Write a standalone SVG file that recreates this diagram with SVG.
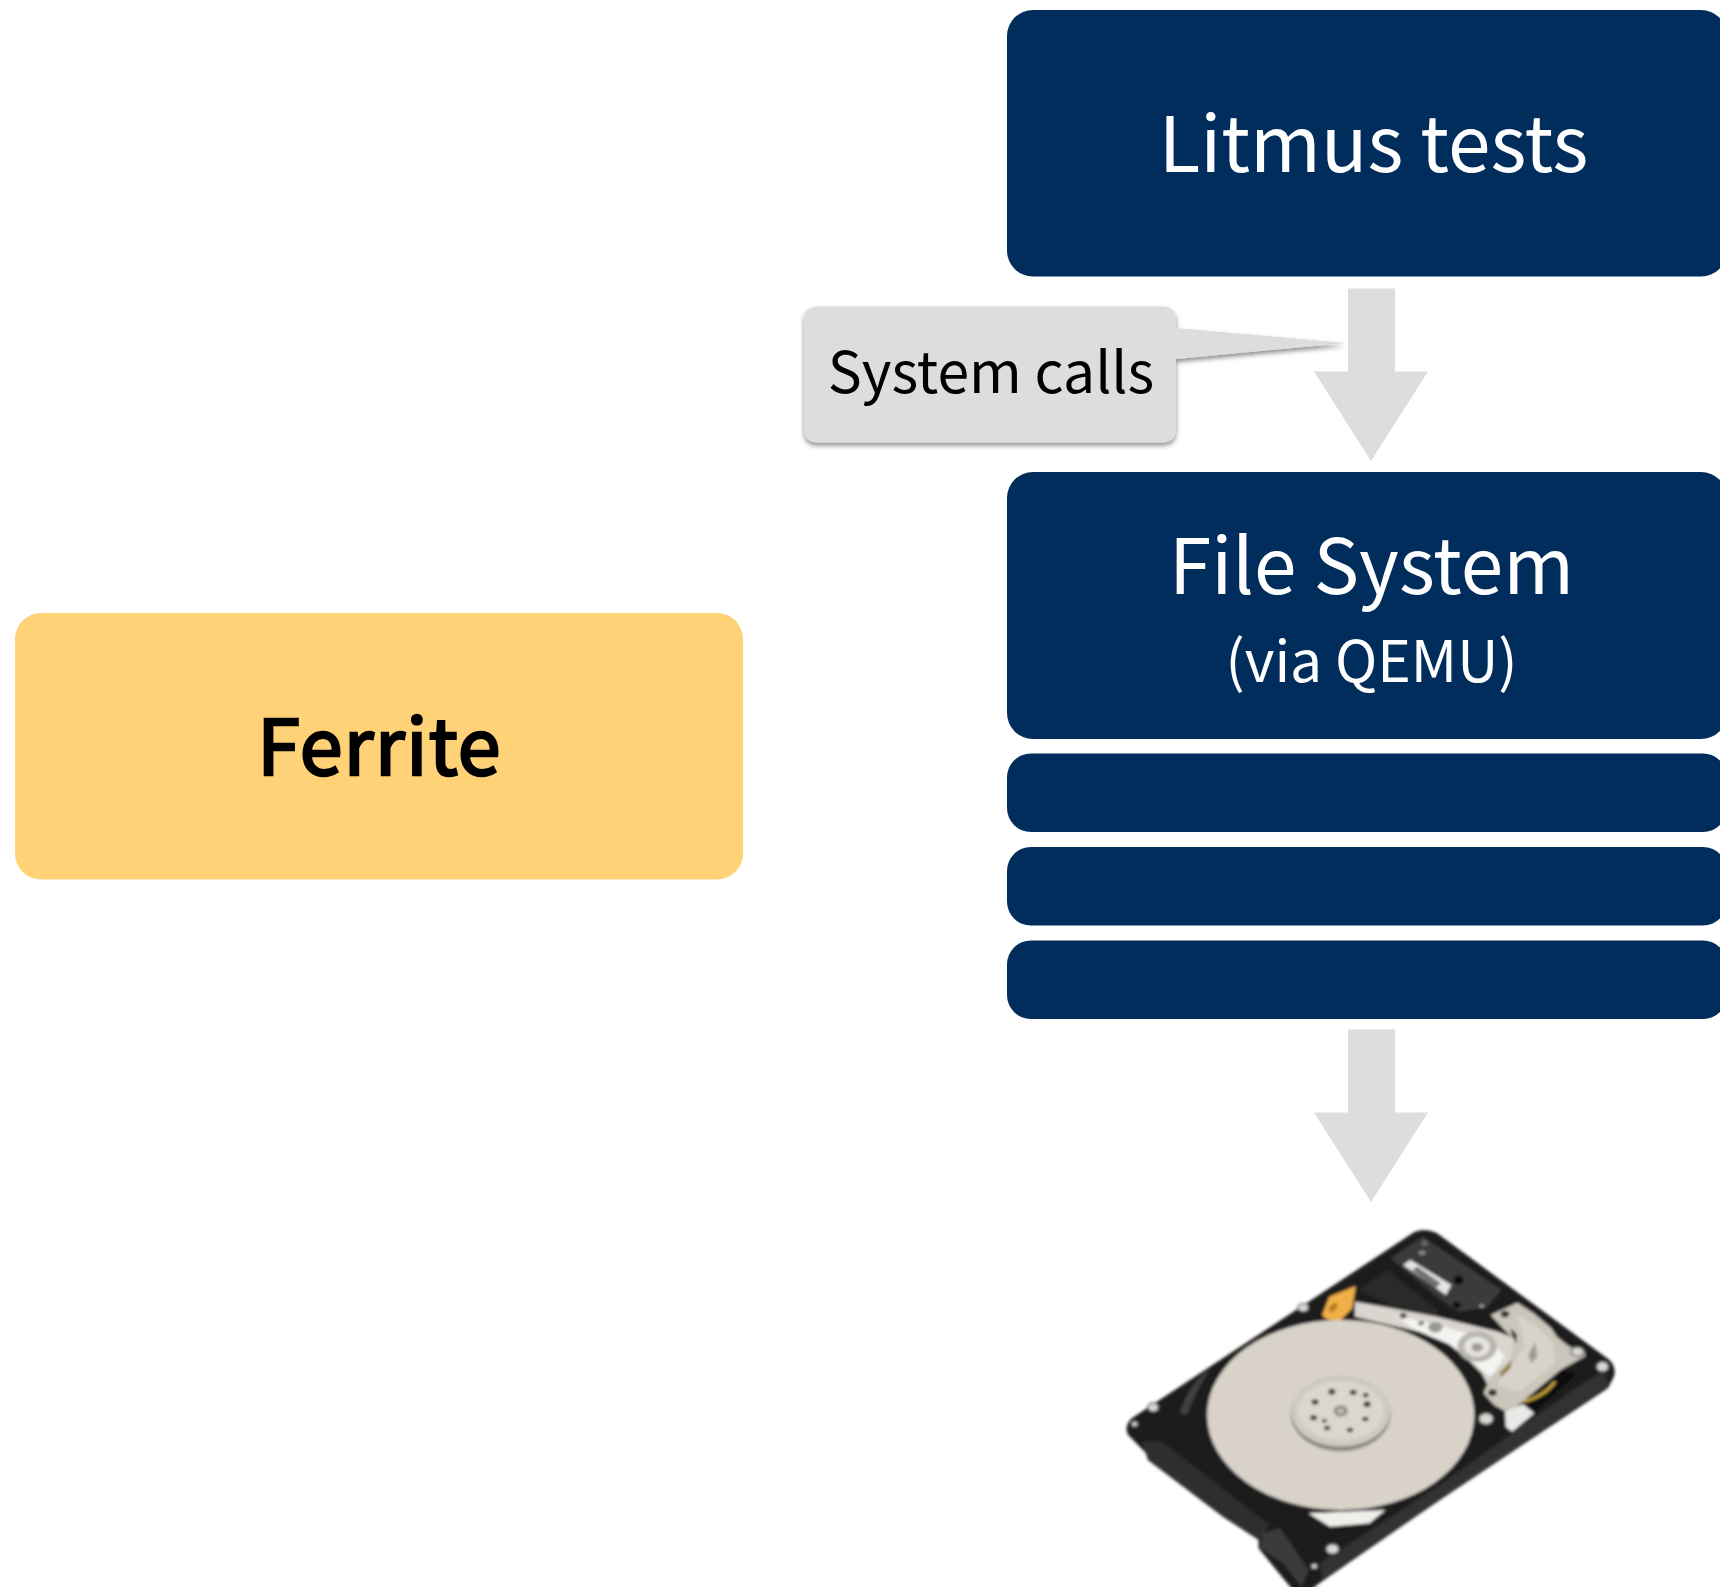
<svg xmlns="http://www.w3.org/2000/svg" width="1720" height="1587" viewBox="0 0 1720 1587">
<defs>
<style>
.blue{fill:#012D5D}
.arrow{fill:#DCDDDF}
.t{font-family:"Noto Sans CJK SC","Noto Sans",sans-serif;text-anchor:middle}
.w{fill:#fff;font-weight:400}
.k{fill:#000}
.screw{fill:#d8d8d6;stroke:#55544f;stroke-width:4}
.hole{fill:#45423d}
</style>
<filter id="sh" x="-10%" y="-20%" width="120%" height="150%"><feDropShadow dx="0" dy="3" stdDeviation="2.5" flood-color="#000" flood-opacity=".45"/></filter>
<filter id="photo" x="-5%" y="-5%" width="110%" height="110%"><feGaussianBlur stdDeviation="4"/></filter>
</defs>
<rect width="1720" height="1587" fill="#fff"/>
<g id="connectors">
<path class="arrow" d="M1348 288.500H1395V371.500H1428L1371 461L1314 371.500H1348Z"/>
<path class="arrow" d="M1348 1029.500H1395V1112.500H1428L1371 1202L1314 1112.500H1348Z"/>
</g>
<g id="litmus-tests">
<rect class="blue" x="1007" y="10" width="720" height="266.500" rx="26"/>
<text class="t w" x="1373.500" y="172" font-size="76.500">Litmus tests</text>
</g>
<g id="file-system">
<rect class="blue" x="1007" y="472" width="720" height="267" rx="26"/>
<text class="t w" x="1371.500" y="593.500" font-size="76.500">File System</text>
<text class="t w" x="1371.500" y="681.500" font-size="57">(via QEMU)</text>
</g>
<g id="layer-1"><rect class="blue" x="1007" y="753.500" width="720" height="78.500" rx="24"/></g>
<g id="layer-2"><rect class="blue" x="1007" y="847" width="720" height="78.500" rx="24"/></g>
<g id="layer-3"><rect class="blue" x="1007" y="940.500" width="720" height="78.500" rx="24"/></g>
<g id="system-calls">
<path fill="#DCDDDF" filter="url(#sh)" d="M818 306.500H1162Q1176 306.500 1176 320.500V328L1346 343L1176 359V428.500Q1176 442.500 1162 442.500H818Q804 442.500 804 428.500V320.500Q804 306.500 818 306.500Z"/>
<text class="t k" x="991" y="393" font-size="57" font-weight="400">System calls</text>
</g>
<g id="ferrite">
<rect x="15" y="613" width="728" height="266.500" rx="26" fill="#FFD277"/>
<text class="t k" x="379.500" y="775" font-size="77" font-weight="400" stroke="#000" stroke-width="2.600" letter-spacing="1.300">Ferrite</text>
</g>
<g id="hard-drive">
<g transform="translate(1080 1200) scale(.35714 .33333)">
<g filter="url(#photo)">
<path fill="#1b1b1b" d="M935 97Q965 82 1000 100L1480 478Q1503 500 1495 530L1478 565L1000 905L670 1150L640 1175L600 1175L500 1045L500 1000L190 765L135 705Q122 680 145 655Z"/>
<path fill="#303030" d="M1380 570L1470 510L1478 560L1000 905L680 1140L670 1090L1000 860Z"/>
<path fill="#2e2e2e" d="M175 725L230 725L530 975L500 1020L400 950L190 780Z"/>
<path fill="#3f3f3f" d="M280 640Q300 560 365 505Q320 580 300 645Z"/>
<path fill="#3a3a3a" d="M510 1000L560 985L640 1110L620 1160L570 1090L505 1045Z"/>
<path fill="#3a3a3a" d="M870 175L960 110L1180 270L1140 320L1060 335L1000 290Z"/>
<path fill="#2a2a2a" d="M780 270L860 210L1000 330L1000 350L880 320Z"/>
<path fill="#e4e4e2" d="M905 195L925 180L1040 255L1025 285Z"/>
<path fill="#6f6f6d" d="M930 210L945 200L1010 250L995 265Z"/>
<ellipse fill="#111" cx="1055" cy="315" rx="11" ry="10"/><ellipse fill="#9a9a98" cx="1125" cy="318" rx="8" ry="5"/>
<ellipse fill="#666" cx="965" cy="130" rx="9" ry="9"/><ellipse fill="#8b8b8b" cx="958" cy="158" rx="10" ry="6"/><ellipse fill="#111" cx="1060" cy="240" rx="14" ry="14"/>
<path fill="#d9d5cf" d="M770 305L850 320L1000 350L1170 395L1230 420L1215 500L1160 590L1125 520L1050 440L950 395L770 350Z"/>
<path fill="#f4f4f2" d="M880 345L1000 375L1150 420L1190 470L1150 530L1090 480L1030 430L930 385Z"/>
<ellipse fill="#b8b5ae" cx="1112" cy="440" rx="55" ry="46"/><ellipse fill="#e6e4df" cx="1112" cy="440" rx="36" ry="30"/><ellipse fill="#9f9c95" cx="1112" cy="442" rx="16" ry="13"/>
<ellipse fill="#9a9893" cx="995" cy="382" rx="20" ry="16"/><ellipse fill="#555" cx="905" cy="347" rx="10" ry="9"/><ellipse fill="#666" cx="955" cy="370" rx="8" ry="6"/>
<path fill="#F0B04A" d="M678 345L698 290L772 258L762 325L725 365L690 358Z"/>
<path fill="#B77A22" d="M695 325L715 305L722 320L705 340Z"/>
<path fill="#111" d="M1345 510L1200 640L1270 640L1395 520Z"/>
<path fill="none" stroke="#bfa03c" stroke-width="9" d="M1240 605Q1300 590 1330 545"/>
<path fill="#cbc6bb" d="M1150 345L1225 308L1270 340L1320 385L1335 410L1370 440L1412 450L1415 468L1345 510L1200 640L1160 615L1130 580L1150 530L1205 480L1215 420Z"/>
<path fill="#d8d3ca" d="M1225 345L1275 375L1325 430L1330 490L1230 575L1165 555L1210 490L1245 440Z"/>
<path fill="#8b7a3d" d="M1175 520L1210 480L1205 505L1180 530Z"/>
<path fill="#1a1a1a" d="M1205 385L1222 402L1222 430L1210 408Z"/>
<path fill="#a09b90" d="M1255 465L1275 425L1280 470L1265 490Z"/>
<path fill="#e9e9e7" d="M1190 635L1240 612L1272 640L1210 695L1192 680Z"/>
<ellipse fill="#33312d" cx="1190" cy="342" rx="12" ry="10"/><ellipse fill="#33312d" cx="1155" cy="578" rx="12" ry="10"/>
<ellipse cx="730" cy="645" rx="374" ry="285" fill="#d8d2c9"/>
<path fill="#efefec" d="M640 940L855 930L810 970L700 980Z"/>
<ellipse cx="730" cy="642" rx="140" ry="112" fill="#8f8a80"/>
<ellipse cx="730" cy="635" rx="138" ry="104" fill="#d0cbc2"/>
<ellipse cx="730" cy="632" rx="120" ry="88" fill="#dbd6ce"/>
<ellipse class="hole" cx="705" cy="575" rx="10" ry="9"/><ellipse class="hole" cx="765" cy="577" rx="10" ry="8"/><ellipse class="hole" cx="800" cy="585" rx="8" ry="7"/><ellipse class="hole" cx="804" cy="613" rx="10" ry="9"/><ellipse class="hole" cx="799" cy="657" rx="9" ry="7"/><ellipse class="hole" cx="756" cy="690" rx="9" ry="7"/><ellipse class="hole" cx="692" cy="684" rx="9" ry="7"/><ellipse class="hole" cx="684" cy="662" rx="7" ry="6"/><ellipse class="hole" cx="654" cy="653" rx="10" ry="8"/><ellipse class="hole" cx="658" cy="606" rx="10" ry="8"/>
<ellipse fill="#8f8c86" cx="730" cy="633" rx="20" ry="17"/><ellipse fill="#c4c1ba" cx="730" cy="633" rx="9" ry="8"/>
<ellipse class="screw" cx="625" cy="323" rx="15" ry="12"/><ellipse class="screw" cx="205" cy="622" rx="15" ry="13"/><ellipse class="screw" cx="153" cy="672" rx="9" ry="8"/><ellipse class="screw" cx="707" cy="1047" rx="18" ry="15"/><ellipse class="screw" cx="656" cy="1099" rx="9" ry="8"/><ellipse class="screw" cx="1137" cy="656" rx="20" ry="17"/><ellipse class="screw" cx="1463" cy="500" rx="17" ry="15"/><ellipse class="screw" cx="1393" cy="455" rx="18" ry="14"/>
</g>
</g>
</g>
</svg>
